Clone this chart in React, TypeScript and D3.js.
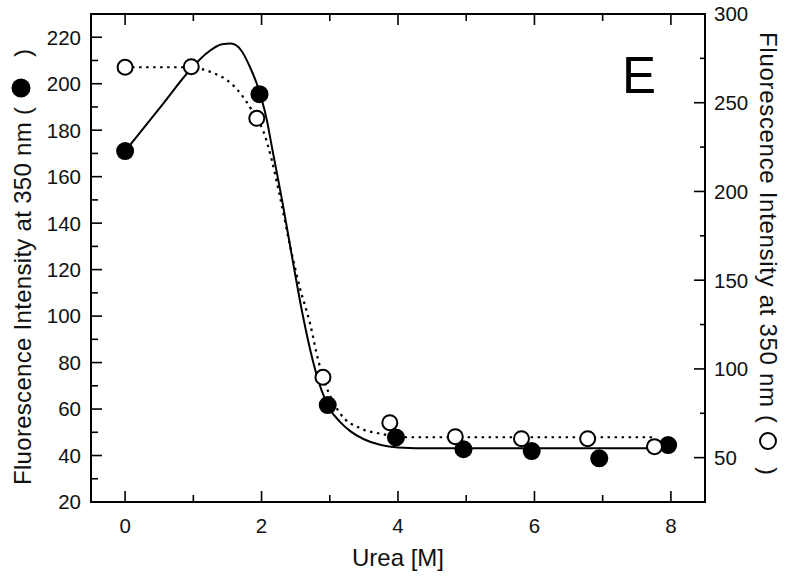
import { useEffect, useRef } from "react";
import * as d3 from "d3";

// measured points, filled circles -> left axis, open circles -> right axis
const ureaFilled = [0, 1.97, 2.97, 3.97, 4.96, 5.96, 6.95, 7.96];
const intensityFilled = [171, 195.5, 61.7, 47.8, 42.7, 41.9, 38.8, 44.5];

const ureaOpen = [0, 0.97, 1.93, 2.9, 3.88, 4.84, 5.81, 6.78, 7.76];
const intensityOpen = [270, 270.3, 241.2, 95.3, 69.7, 61.8, 60.7, 60.7, 56.2];

// fitted curves
const fitFilledUrea = [0, 0.5, 1.0, 1.19, 1.42, 1.55, 1.7, 1.83, 1.93, 2.0, 2.08, 2.15, 2.3, 2.45, 2.6, 2.75, 2.88, 3.0, 3.15, 3.3, 3.5, 3.75, 4.0, 4.5, 8.0];
const fitFilledValue = [171, 189.3, 207.5, 213, 217, 217.3, 214.4, 207.2, 200, 193.5, 184, 173, 150, 125, 101, 81, 68, 60, 54.5, 50.5, 47, 44.5, 43.5, 43.1, 43.1];

const fitOpenUrea = [0, 1.0, 1.14, 1.31, 1.49, 1.63, 1.78, 1.93, 2.02, 2.15, 2.27, 2.42, 2.56, 2.71, 2.83, 2.93, 3.15, 3.45, 3.74, 4.13, 7.76];
const fitOpenValue = [270, 270, 268.8, 266.5, 262.8, 258, 250.5, 241, 234.5, 217.7, 197, 169, 146, 125.7, 105, 92, 75, 66.5, 63.5, 61.5, 61.5];

const xTicks = [0, 1, 2, 3, 4, 5, 6, 7, 8];
const xTickLabels = ["0", "", "2", "", "4", "", "6", "", "8"];
const leftTicks = [30, 40, 50, 60, 70, 80, 90, 100, 110, 120, 130, 140, 150, 160, 170, 180, 190, 200, 210, 220];
const leftTickLabels = [20, 40, 60, 80, 100, 120, 140, 160, 180, 200, 220];
const rightTicks = [50, 75, 100, 125, 150, 175, 200, 225, 250, 275];
const rightTickLabels = [50, 100, 150, 200, 250, 300];

const FONT = "'Liberation Sans', Arial, sans-serif";

export default function App() {
  const ref = useRef<SVGSVGElement | null>(null);

  useEffect(() => {
    document.body.style.margin = "0";
    const width = 798;
    const height = 582;

    const svg = d3.select(ref.current);
    svg.selectAll("*").remove();
    svg.attr("viewBox", `0 0 ${width} ${height}`);

    const x = d3.scaleLinear().domain([-0.5, 8.5]).range([91, 705]);
    const yL = d3.scaleLinear().domain([20, 230]).range([502, 14]);
    const yR = d3.scaleLinear().domain([25, 300]).range([502, 14]);

    const [x0, x1] = x.range();
    const [yb, yt] = yL.range();

    // ticks (all pointing inward)
    const ticks = svg.append("g").attr("stroke", "#000").attr("stroke-width", 1.6);
    xTicks.forEach((t, i) => {
      const len = xTickLabels[i] ? 11 : 7;
      ticks.append("line").attr("x1", x(t)).attr("x2", x(t)).attr("y1", yb).attr("y2", yb - len);
      ticks.append("line").attr("x1", x(t)).attr("x2", x(t)).attr("y1", yt).attr("y2", yt + len);
    });
    leftTicks.forEach((t) => {
      const len = leftTickLabels.includes(t) ? 11 : 7;
      ticks.append("line").attr("x1", x0).attr("x2", x0 + len).attr("y1", yL(t)).attr("y2", yL(t));
    });
    rightTicks.forEach((t) => {
      const len = rightTickLabels.includes(t) ? 11 : 5;
      ticks.append("line").attr("x1", x1).attr("x2", x1 - len).attr("y1", yR(t)).attr("y2", yR(t));
    });

    svg
      .append("rect")
      .attr("x", x0)
      .attr("y", yt)
      .attr("width", x1 - x0)
      .attr("height", yb - yt)
      .attr("fill", "none")
      .attr("stroke", "#000")
      .attr("stroke-width", 2);

    // tick labels
    const lab = svg.append("g").attr("font-family", FONT).attr("font-size", 20.5).attr("fill", "#111");
    xTicks.forEach((t, i) => {
      if (!xTickLabels[i]) return;
      lab.append("text").attr("x", x(t)).attr("y", 533).attr("text-anchor", "middle").text(xTickLabels[i]);
    });
    leftTickLabels.forEach((t) => {
      lab.append("text").attr("x", 81).attr("y", yL(t)).attr("dy", "0.36em").attr("text-anchor", "end").text(t);
    });
    rightTickLabels.forEach((t) => {
      lab.append("text").attr("x", 714).attr("y", yR(t)).attr("dy", "0.36em").attr("text-anchor", "start").text(t);
    });

    // axis titles
    const ttl = svg.append("g").attr("font-family", FONT).attr("font-size", 24).attr("fill", "#111");
    ttl.append("text").attr("x", (x0 + x1) / 2).attr("y", 566).attr("text-anchor", "middle").text("Urea [M]");

    ttl
      .append("text")
      .attr("transform", "translate(31,485) rotate(-90)")
      .attr("textLength", 378)
      .text("Fluorescence Intensity at 350 nm (");
    svg.append("circle").attr("cx", 21).attr("cy", 88).attr("r", 9.5).attr("fill", "#000");
    ttl.append("text").attr("transform", "translate(31,57) rotate(-90)").text(")");

    ttl
      .append("text")
      .attr("transform", "translate(760,32) rotate(90)")
      .attr("textLength", 391)
      .text("Fluorescence Intensity at 350 nm (");
    svg
      .append("circle")
      .attr("cx", 768)
      .attr("cy", 441)
      .attr("r", 8)
      .attr("fill", "none")
      .attr("stroke", "#000")
      .attr("stroke-width", 2);
    ttl.append("text").attr("transform", "translate(760,467) rotate(90)").text(")");

    svg
      .append("text")
      .attr("x", 622)
      .attr("y", 93)
      .attr("font-family", FONT)
      .attr("font-size", 51)
      .attr("fill", "#000")
      .text("E");

    // fitted curves
    const openFit = fitOpenUrea.map((u, i) => [u, fitOpenValue[i]] as [number, number]);
    const filledFit = fitFilledUrea.map((u, i) => [u, fitFilledValue[i]] as [number, number]);

    svg
      .append("path")
      .attr(
        "d",
        d3
          .line<[number, number]>()
          .x((d) => x(d[0]))
          .y((d) => yR(d[1]))
          .curve(d3.curveMonotoneX)(openFit),
      )
      .attr("fill", "none")
      .attr("stroke", "#000")
      .attr("stroke-width", 2.2)
      .attr("stroke-dasharray", "2.5,4.5");

    svg
      .append("path")
      .attr(
        "d",
        d3
          .line<[number, number]>()
          .x((d) => x(d[0]))
          .y((d) => yL(d[1]))
          .curve(d3.curveMonotoneX)(filledFit),
      )
      .attr("fill", "none")
      .attr("stroke", "#000")
      .attr("stroke-width", 2);

    // markers
    svg
      .append("g")
      .selectAll("circle")
      .data(ureaFilled)
      .join("circle")
      .attr("cx", (d) => x(d))
      .attr("cy", (d, i) => yL(intensityFilled[i]))
      .attr("r", 9)
      .attr("fill", "#000");

    svg
      .append("g")
      .selectAll("circle")
      .data(ureaOpen)
      .join("circle")
      .attr("cx", (d) => x(d))
      .attr("cy", (d, i) => yR(intensityOpen[i]))
      .attr("r", 7.5)
      .attr("fill", "#fff")
      .attr("stroke", "#000")
      .attr("stroke-width", 2);
  }, []);

  return <svg ref={ref} width={798} height={582} style={{ display: "block", background: "#fff" }} />;
}
